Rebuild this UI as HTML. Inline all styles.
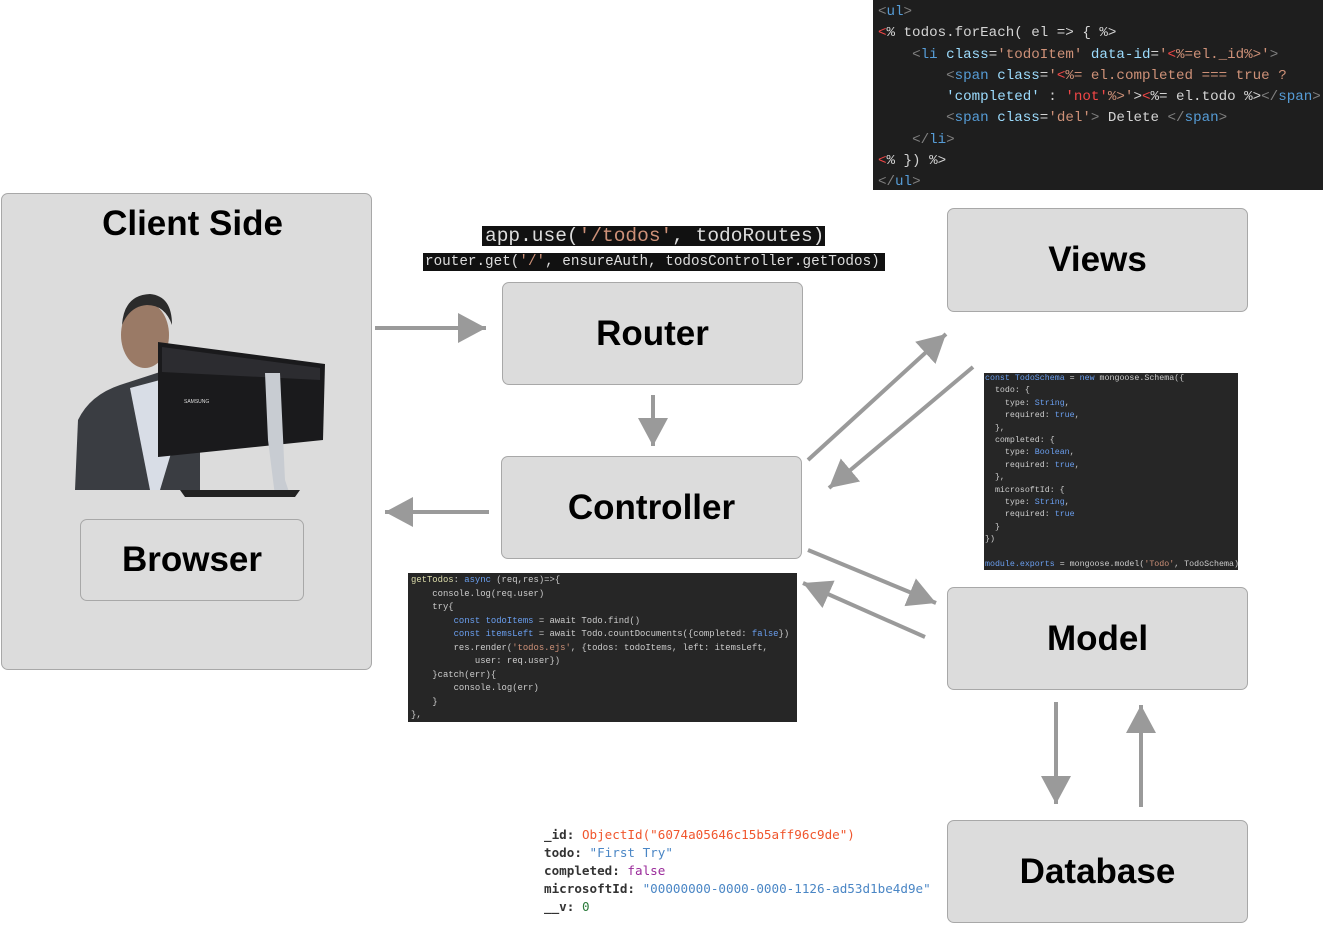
<!DOCTYPE html>
<html><head><meta charset="utf-8"><style>
body{margin:0;width:1323px;height:925px;background:#fff;position:relative;overflow:hidden;font-family:"Liberation Sans",sans-serif}
.box{position:absolute;background:#dcdcdc;border:1.5px solid #a8a8a8;border-radius:7px;box-sizing:border-box;display:flex;align-items:center;justify-content:center;font-weight:bold;font-size:35px;color:#000}
.code{position:absolute;background:#1e1e1e;font-family:"Liberation Mono",monospace;white-space:pre;color:#d4d4d4;overflow:hidden;box-sizing:border-box}
.t{color:#808080}.tg{color:#569cd6}.at{color:#9cdcfe}.s{color:#ce9178}.r{color:#f44747}.k{color:#569cd6}.y{color:#dcdcaa}.c{color:#4ec9b0}.p{color:#c586c0}.b{color:#6a9ff0}
</style></head><body>
<div class="box" style="left:1px;top:193px;width:371px;height:477px;align-items:flex-start;padding-top:10px;padding-left:12px">Client Side</div>
<svg style="position:absolute;left:0;top:0" width="1323" height="925">
<defs><marker id="a" markerUnits="userSpaceOnUse" markerWidth="30" markerHeight="30" refX="28" refY="15" orient="auto"><path d="M0,0 L28,15 L0,30 Z" fill="#9a9a9a"/></marker></defs>
<!-- person -->
<path d="M75,490 L78,420 Q90,395 120,385 L160,372 L200,395 L200,490 Z" fill="#3a3d42"/>
<path d="M130,388 L160,380 L175,440 L160,490 L150,490 Z" fill="#d8dde6"/>
<ellipse cx="145" cy="335" rx="24" ry="33" fill="#9a7a66"/>
<path d="M122,325 Q124,295 150,294 Q172,296 172,325 Q165,305 147,305 Q130,306 122,325Z" fill="#2b2b2b"/>
<path d="M158,342 L325,364 L323,440 L158,457 Z" fill="#1a1a1c"/>
<path d="M162,347 L320,368 L320,380 L162,372 Z" fill="#2c2c30"/>
<text x="184" y="403" font-size="5" fill="#ddd" font-family="Liberation Sans">SAMSUNG</text>
<path d="M265,373 L280,373 L285,480 L290,495 L275,496 L268,440 Z" fill="#c8ccd2"/>
<path d="M180,490 L300,490 L295,497 L185,497 Z" fill="#222"/>
<g stroke="#9a9a9a" stroke-width="4" fill="none" marker-end="url(#a)">
<line x1="375" y1="328" x2="486" y2="328"/>
<line x1="653" y1="395" x2="653" y2="446"/>
<line x1="489" y1="512" x2="385" y2="512"/>
<line x1="808" y1="460" x2="946" y2="334"/>
<line x1="973" y1="367" x2="829" y2="488"/>
<line x1="808" y1="550" x2="936" y2="603"/>
<line x1="925" y1="637" x2="803" y2="583"/>
<line x1="1056" y1="702" x2="1056" y2="804"/>
<line x1="1141" y1="807" x2="1141" y2="705"/>
</g>
</svg>
<div class="box" style="left:80px;top:519px;width:224px;height:82px">Browser</div>
<div class="box" style="left:502px;top:282px;width:301px;height:103px">Router</div>
<div class="box" style="left:947px;top:208px;width:301px;height:104px">Views</div>
<div class="box" style="left:501px;top:456px;width:301px;height:103px">Controller</div>
<div class="box" style="left:947px;top:587px;width:301px;height:103px">Model</div>
<div class="box" style="left:947px;top:820px;width:301px;height:103px">Database</div>

<div class="code" style="left:873px;top:0;width:450px;height:190px;font-size:14.2px;line-height:21.3px;padding:2px 0 0 5px"><span class="t">&lt;</span><span class="tg">ul</span><span class="t">&gt;</span>
<span class="r">&lt;</span>% todos.forEach( el =&gt; { %&gt;
    <span class="t">&lt;</span><span class="tg">li</span> <span class="at">class</span>=<span class="s">'todoItem'</span> <span class="at">data-id</span>=<span class="s">'<span class="r">&lt;</span>%=el._id%&gt;'</span><span class="t">&gt;</span>
        <span class="t">&lt;</span><span class="tg">span</span> <span class="at">class</span>=<span class="s">'<span class="r">&lt;</span>%= el.completed === true ?</span>
        <span class="at">'completed'</span> : <span class="r">'not'</span><span class="s">%&gt;'</span>&gt;<span class="r">&lt;</span>%= el.todo %&gt;<span class="t">&lt;/</span><span class="tg">span</span><span class="t">&gt;</span>
        <span class="t">&lt;</span><span class="tg">span</span> <span class="at">class</span>=<span class="s">'del'</span><span class="t">&gt;</span> Delete <span class="t">&lt;/</span><span class="tg">span</span><span class="t">&gt;</span>
    <span class="t">&lt;/</span><span class="tg">li</span><span class="t">&gt;</span>
<span class="r">&lt;</span>% }) %&gt;
<span class="t">&lt;/</span><span class="tg">ul</span><span class="t">&gt;</span></div>

<div class="code" style="left:482px;top:226px;width:343px;height:20px;background:#111;font-size:19.5px;line-height:20px;padding-left:3px;color:#ddd">app.use(<span class="s">'/todos'</span>, todoRoutes)</div>
<div class="code" style="left:423px;top:253px;width:462px;height:18px;background:#111;font-size:14.3px;line-height:18px;padding-left:2px;color:#ddd">router.get(<span class="s">'/'</span>, ensureAuth, todosController.getTodos)</div>

<div class="code" style="left:984px;top:373px;width:254px;height:197px;background:#262626;font-size:8.3px;line-height:12.4px;padding:0 0 0 1px;color:#ccc"><span class="b">const</span> <span class="b">TodoSchema</span> = <span class="b">new</span> mongoose.Schema({
  todo: {
    type: <span class="b">String</span>,
    required: <span class="b">true</span>,
  },
  completed: {
    type: <span class="b">Boolean</span>,
    required: <span class="b">true</span>,
  },
  microsoftId: {
    type: <span class="b">String</span>,
    required: <span class="b">true</span>
  }
})

<span class="b">module.exports</span> = mongoose.model(<span class="s">'Todo'</span>, TodoSchema)</div>

<div class="code" style="left:408px;top:573px;width:389px;height:149px;background:#262626;font-size:8.9px;line-height:13.5px;padding:1px 0 0 3px;color:#ccc"><span class="y">getTodos</span>: <span class="b">async</span> (req,res)=&gt;{
    console.log(req.user)
    try{
        <span class="b">const todoItems</span> = await Todo.find()
        <span class="b">const itemsLeft</span> = await Todo.countDocuments({completed: <span class="b">false</span>})
        res.render(<span class="s">'todos.ejs'</span>, {todos: todoItems, left: itemsLeft,
            user: req.user})
    }catch(err){
        console.log(err)
    }
},</div>

<div style="position:absolute;left:544px;top:826px;font-family:'DejaVu Sans Mono','Liberation Mono',monospace;font-size:12.6px;line-height:18px;white-space:pre;color:#333"><b style="font-weight:600">_id:</b> <span style="color:#f0562d">ObjectId("6074a05646c15b5aff96c9de")</span>
<b style="font-weight:600">todo:</b> <span style="color:#4a86c5">"First Try"</span>
<b style="font-weight:600">completed:</b> <span style="color:#9a2a9a">false</span>
<b style="font-weight:600">microsoftId:</b> <span style="color:#4a86c5">"00000000-0000-0000-1126-ad53d1be4d9e"</span>
<b style="font-weight:600">__v:</b> <span style="color:#2a7a3a">0</span></div>
</body></html>
